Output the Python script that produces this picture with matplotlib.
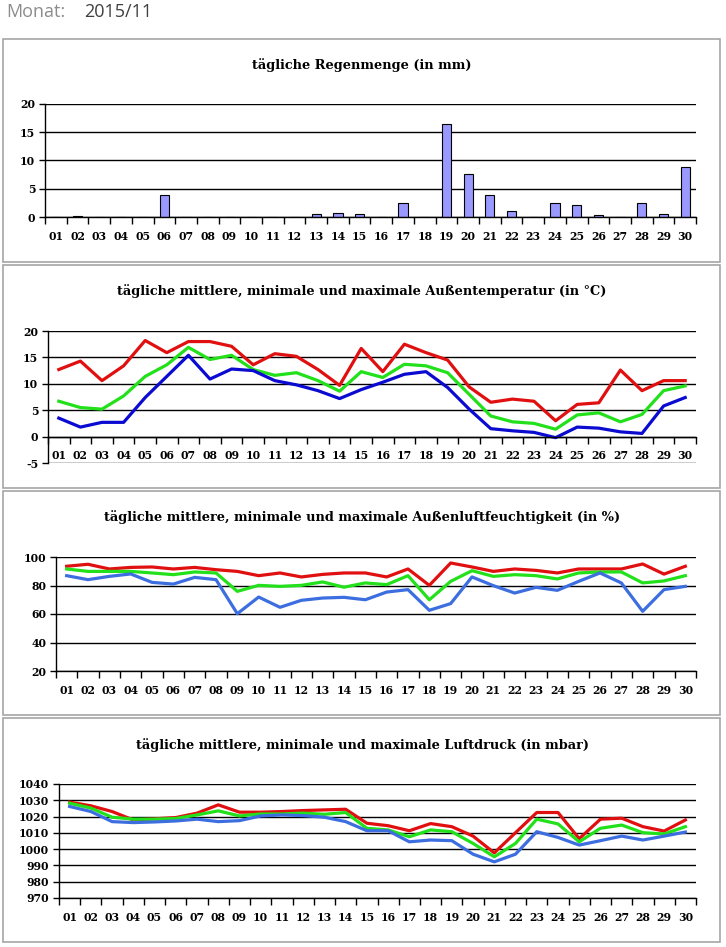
import numpy as np
import matplotlib
matplotlib.use('Agg')
import matplotlib.pyplot as plt
from matplotlib.patches import Rectangle

days = ['%02d' % d for d in range(1, 31)]

rain = [0, 0.15, 0, 0, 0, 3.9, 0, 0, 0, 0, 0, 0, 0.55, 0.7, 0.5,
        0, 2.4, 0, 16.5, 7.6, 3.95, 1.1, 0, 2.5, 2.1, 0.35, 0, 2.5, 0.55, 8.9]

temp_max = [12.7, 14.3, 10.6, 13.4, 18.2, 15.9, 18.0, 18.0, 17.1, 13.6,
            15.7, 15.2, 12.7, 9.7, 16.7, 12.3, 17.5, 15.9, 14.5, 9.4,
            6.5, 7.1, 6.7, 3.0, 6.1, 6.4, 12.6, 8.7, 10.6, 10.6]
temp_mean = [6.7, 5.5, 5.2, 7.7, 11.4, 13.6, 16.9, 14.6, 15.4, 12.7,
             11.6, 12.1, 10.6, 8.6, 12.3, 11.2, 13.7, 13.4, 12.1, 8.0,
             3.9, 2.8, 2.5, 1.4, 4.1, 4.5, 2.8, 4.2, 8.7, 9.6]
temp_min = [3.5, 1.8, 2.7, 2.7, 7.4, 11.4, 15.4, 10.9, 12.8, 12.5,
            10.6, 9.8, 8.7, 7.2, 8.9, 10.3, 11.8, 12.3, 9.3, 5.2,
            1.5, 1.1, 0.8, -0.2, 1.8, 1.6, 0.9, 0.6, 5.8, 7.4]

hum_max = [93.5, 94.9, 91.6, 92.7, 93.0, 91.6, 92.7, 91.1, 89.9, 86.9,
           88.8, 86.0, 87.8, 88.8, 88.8, 86.0, 91.6, 80.1, 95.8, 93.0,
           89.9, 91.6, 90.6, 88.8, 91.6, 91.6, 91.6, 95.1, 88.0, 93.5]
hum_mean = [91.6, 89.9, 89.9, 89.9, 88.8, 87.6, 89.5, 88.8, 75.9, 80.1,
            79.4, 80.1, 82.5, 78.8, 81.8, 80.6, 86.9, 70.0, 82.9, 90.4,
            86.4, 87.6, 86.9, 84.6, 88.8, 89.5, 89.5, 81.8, 83.2, 86.9]
hum_min = [86.9, 84.1, 86.4, 88.1, 82.2, 81.0, 85.7, 84.1, 60.2, 71.9,
           64.7, 69.6, 71.2, 71.7, 70.0, 75.4, 77.1, 62.6, 67.3, 86.0,
           79.9, 74.7, 78.7, 76.6, 82.9, 88.8, 81.8, 61.9, 77.1, 79.4]

press_max = [1028.9, 1026.6, 1023.1, 1017.9, 1018.6, 1019.4, 1022.1, 1027.2, 1022.7, 1022.7,
             1023.1, 1023.7, 1024.1, 1024.5, 1015.9, 1014.4, 1011.3, 1015.7, 1013.8, 1008.0,
             997.7, 1010.1, 1022.5, 1022.5, 1006.4, 1018.4, 1019.0, 1013.8, 1011.1, 1017.9]
press_mean = [1028.2, 1025.2, 1019.6, 1018.4, 1018.4, 1018.8, 1021.0, 1023.5, 1020.4, 1021.6,
              1021.6, 1022.1, 1021.4, 1022.5, 1012.8, 1011.8, 1007.6, 1011.8, 1010.7, 1003.5,
              995.3, 1003.5, 1018.4, 1015.5, 1004.5, 1012.8, 1014.8, 1010.1, 1009.3, 1013.8]
press_min = [1026.2, 1023.1, 1016.9, 1016.3, 1016.7, 1017.3, 1018.4, 1016.9, 1017.5, 1020.4,
             1021.0, 1020.6, 1019.6, 1016.9, 1011.3, 1011.3, 1004.5, 1005.6, 1005.2, 996.9,
             992.2, 996.9, 1010.7, 1007.2, 1002.5, 1005.2, 1008.0, 1005.6, 1008.0, 1010.5]

W, H = 726, 947
RED = '#e01010'
GREEN = '#22e01a'
DARKBLUE = '#0a0ad0'
BLUE = '#3c6ee0'
TICKFONT = dict(family='DejaVu Serif', weight='bold', size=7.8)

fig = plt.figure(figsize=(W / 100, H / 100), dpi=100)


def fx(px):
    return px / W


def fy(py):
    return 1 - py / H


def panel_box(top, bottom):
    fig.patches.append(Rectangle((fx(3), fy(bottom)), fx(717), (bottom - top) / H,
                                 transform=fig.transFigure, fill=False,
                                 edgecolor='#a6a6a6', linewidth=1.2))


def make_axes(left, top, bottom, right=696, xzero=None):
    ax = fig.add_axes([fx(left), fy(bottom), fx(right - left), (bottom - top) / H])
    for s in ['top', 'right']:
        ax.spines[s].set_visible(False)
    if xzero is not None:
        ax.spines['bottom'].set_position(('data', xzero))
    ax.set_xlim(0.5, 30.5)
    ax.set_xticks(range(1, 31))
    ax.set_xticklabels(days, fontdict=TICKFONT)
    ax.tick_params(axis='x', which='major', length=0, pad=10)
    ax.set_xticks(np.arange(0.5, 31, 1), minor=True)
    ax.tick_params(axis='x', which='minor', length=5, direction='out', width=1)
    ax.tick_params(axis='y', length=4, width=1, direction='out', pad=3)
    ax.yaxis.grid(True, color='black', linewidth=1)
    ax.set_axisbelow(True)
    for s in ['left', 'bottom']:
        ax.spines[s].set_linewidth(1)
    return ax


def set_yticks(ax, ticks):
    ax.set_yticks(ticks)
    ax.set_yticklabels([str(t) for t in ticks], fontdict=TICKFONT)
    ax.set_ylim(ticks[0], ticks[-1])


def title(text, y):
    fig.text(fx(362), fy(y), text, ha='center', va='center',
             family='DejaVu Serif', weight='bold', size=9.3)


# header
fig.text(fx(6), fy(12), 'Monat:', family='Open Sans', size=13, color='#8c8c8c',
         va='center', ha='left')
fig.text(fx(84), fy(12), '2015/11', family='Open Sans', size=13, color='#404040',
         va='center', ha='left')

x = np.arange(1, 31)

# rain
panel_box(39, 262)
title('tägliche Regenmenge (in mm)', 65)
ax = make_axes(45, 104, 217)
ax.bar(x, rain, width=0.42, color='#9999ff', edgecolor='black', linewidth=0.8)
set_yticks(ax, [0, 5, 10, 15, 20])

# temperature
panel_box(265, 488)
title('tägliche mittlere, minimale und maximale Außentemperatur (in °C)', 291)
ax = make_axes(48, 331, 463, xzero=0)
ax.plot(x, temp_max, color=RED, linewidth=2.3)
ax.plot(x, temp_mean, color=GREEN, linewidth=2.3)
ax.plot(x, temp_min, color=DARKBLUE, linewidth=2.3)
set_yticks(ax, [-5, 0, 5, 10, 15, 20])

# humidity
panel_box(491, 715)
title('tägliche mittlere, minimale und maximale Außenluftfeuchtigkeit (in %)', 517)
ax = make_axes(56, 557, 671)
ax.plot(x, hum_max, color=RED, linewidth=2.3)
ax.plot(x, hum_mean, color=GREEN, linewidth=2.3)
ax.plot(x, hum_min, color=BLUE, linewidth=2.3)
set_yticks(ax, [20, 40, 60, 80, 100])

# pressure
panel_box(718, 942)
title('tägliche mittlere, minimale und maximale Luftdruck (in mbar)', 745)
ax = make_axes(59, 784, 898)
ax.plot(x, press_max, color=RED, linewidth=2.3)
ax.plot(x, press_mean, color=GREEN, linewidth=2.3)
ax.plot(x, press_min, color=BLUE, linewidth=2.3)
set_yticks(ax, [970, 980, 990, 1000, 1010, 1020, 1030, 1040])

fig.savefig('out.png', dpi=100)
